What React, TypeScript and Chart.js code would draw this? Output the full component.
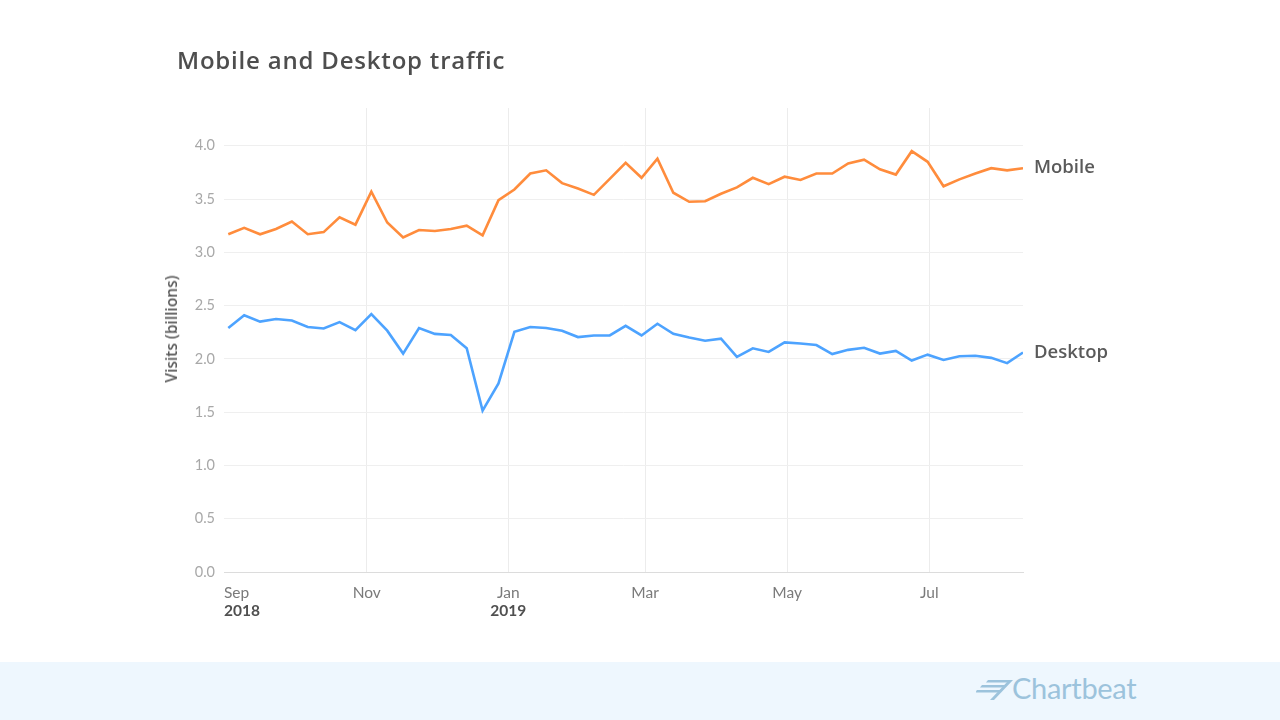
import { useEffect, useRef } from "react";
import Chart from "chart.js/auto";

// weekly visits in billions, Sep 2018 - Aug 2019
const mobileVisits = [
  3.17, 3.23, 3.17, 3.22, 3.29, 3.17, 3.19, 3.33, 3.26, 3.57,
  3.28, 3.14, 3.21, 3.20, 3.22, 3.25, 3.16, 3.49, 3.59, 3.74,
  3.77, 3.65, 3.60, 3.54, 3.69, 3.84, 3.70, 3.88, 3.56, 3.475,
  3.48, 3.55, 3.61, 3.70, 3.64, 3.71, 3.68, 3.74, 3.74, 3.835,
  3.87, 3.78, 3.73, 3.95, 3.85, 3.62, 3.685, 3.74, 3.79, 3.77,
  3.79,
];
const desktopVisits = [
  2.29, 2.41, 2.35, 2.375, 2.36, 2.30, 2.285, 2.345, 2.27, 2.42,
  2.265, 2.05, 2.29, 2.235, 2.225, 2.10, 1.515, 1.77, 2.255, 2.30,
  2.29, 2.265, 2.205, 2.22, 2.22, 2.31, 2.22, 2.33, 2.235, 2.20,
  2.17, 2.19, 2.02, 2.10, 2.065, 2.155, 2.145, 2.13, 2.045, 2.085,
  2.105, 2.05, 2.075, 1.985, 2.04, 1.99, 2.025, 2.03, 2.01, 1.96,
  2.06,
];

// month boundaries, in week-index units of the series above
const monthTickWeeks = [-0.27, 8.71, 17.62, 26.22, 35.16, 44.1, 50];
const monthLabels = ["Sep", "Nov", "Jan", "Mar", "May", "Jul", ""];
const yearTickWeeks = [-0.27, 17.62, 50];
const yearLabels = ["2018", "2019", ""];
const yTicks = [0, 0.5, 1.0, 1.5, 2.0, 2.5, 3.0, 3.5, 4.0];

const FONT = "Lato, 'Open Sans', sans-serif";
const HEAD_FONT = "'Open Sans', Lato, sans-serif";

const endLabels = {
  id: "endLabels",
  afterDatasetsDraw(chart: any) {
    const ctx = chart.ctx;
    ctx.save();
    ctx.font = `600 18.5px ${HEAD_FONT}`;
    ctx.fillStyle = "#5a5a5a";
    ctx.textBaseline = "middle";
    ctx.textAlign = "left";
    chart.data.datasets.forEach((ds: any, i: number) => {
      const pts = chart.getDatasetMeta(i).data;
      const last = pts[pts.length - 1];
      if (last) ctx.fillText(ds.label, last.x + 11, last.y);
    });
    ctx.restore();
  },
};

function TrafficChart() {
  const canvasRef = useRef<HTMLCanvasElement>(null);
  const chartRef = useRef<Chart | null>(null);

  useEffect(() => {
    if (!canvasRef.current) return;
    if (chartRef.current) chartRef.current.destroy();

    const lastTick = monthTickWeeks.length - 1;

    chartRef.current = new Chart(canvasRef.current, {
      type: "line",
      data: {
        datasets: [
          {
            label: "Mobile",
            data: mobileVisits.map((v, i) => ({ x: i, y: v })),
            borderColor: "#ff8c3c",
            borderWidth: 2.6,
            pointRadius: 0,
            tension: 0,
          },
          {
            label: "Desktop",
            data: desktopVisits.map((v, i) => ({ x: i, y: v })),
            borderColor: "#4da3ff",
            borderWidth: 2.6,
            pointRadius: 0,
            tension: 0,
          },
        ],
      },
      options: {
        animation: false,
        responsive: true,
        maintainAspectRatio: false,
        layout: {
          padding: { left: 150, right: 257, top: 108, bottom: 34 },
        },
        plugins: {
          legend: { display: false },
          tooltip: { enabled: false },
        },
        scales: {
          x: {
            type: "linear",
            position: "bottom",
            min: monthTickWeeks[0],
            max: monthTickWeeks[lastTick],
            weight: 1,
            afterBuildTicks: (axis: any) => {
              axis.ticks = monthTickWeeks.map((v) => ({ value: v }));
            },
            afterFit: (axis: any) => {
              axis.height = 30;
            },
            grid: {
              drawTicks: false,
              color: (c: any) =>
                c.index === 0 || c.index === lastTick ? "rgba(0,0,0,0)" : "#ececec",
            },
            border: { display: true, color: "#dcdcdc", width: 1 },
            ticks: {
              autoSkip: false,
              maxRotation: 0,
              align: "inner",
              padding: 12,
              color: "#7a7a7a",
              font: { family: FONT, size: 15.5 },
              callback: (_v: any, i: number) => monthLabels[i],
            },
          },
          year: {
            type: "linear",
            position: "bottom",
            min: yearTickWeeks[0],
            max: yearTickWeeks[yearTickWeeks.length - 1],
            weight: 2,
            afterBuildTicks: (axis: any) => {
              axis.ticks = yearTickWeeks.map((v) => ({ value: v }));
            },
            afterFit: (axis: any) => {
              axis.height = 26;
            },
            grid: { display: false, drawTicks: false },
            border: { display: false },
            ticks: {
              autoSkip: false,
              maxRotation: 0,
              align: "inner",
              padding: 0,
              color: "#505050",
              font: { family: FONT, size: 15.5, weight: "bold" },
              callback: (_v: any, i: number) => yearLabels[i],
            },
          },
          y: {
            min: 0,
            max: 4.355,
            afterBuildTicks: (axis: any) => {
              axis.ticks = yTicks.map((v) => ({ value: v }));
            },
            afterFit: (axis: any) => {
              axis.width = 74;
            },
            grid: { drawTicks: false, color: "#efefef" },
            border: { display: false },
            ticks: {
              padding: 9,
              color: "#a8a8a8",
              font: { family: FONT, size: 14.5 },
              callback: (v: any) => Number(v).toFixed(1),
            },
          },
        },
      },
      plugins: [endLabels],
    });

    return () => {
      if (chartRef.current) {
        chartRef.current.destroy();
        chartRef.current = null;
      }
    };
  }, []);

  return (
    <div style={{ position: "absolute", left: 0, top: 0, width: 1280, height: 662 }}>
      <canvas ref={canvasRef}></canvas>
    </div>
  );
}

export default function App() {
  return (
    <div
      style={{
        position: "fixed",
        inset: 0,
        width: 1280,
        height: 720,
        background: "#ffffff",
        fontFamily: FONT,
        overflow: "hidden",
      }}
    >
      <TrafficChart />
      <div
        style={{
          position: "absolute",
          left: 177,
          top: 45,
          fontFamily: HEAD_FONT,
          fontSize: 24,
          lineHeight: "30px",
          fontWeight: 600,
          letterSpacing: 0.8,
          color: "#4e4e4e",
          whiteSpace: "nowrap",
        }}
      >
        Mobile and Desktop traffic
      </div>
      <div
        style={{
          position: "absolute",
          left: 171,
          top: 329,
          transform: "translate(-50%, -50%) rotate(-90deg)",
          fontFamily: HEAD_FONT,
          fontSize: 15.5,
          fontWeight: 600,
          color: "#5a5a5a",
          whiteSpace: "nowrap",
        }}
      >
        Visits (billions)
      </div>
      <div
        style={{
          position: "absolute",
          left: 0,
          top: 662,
          width: 1280,
          height: 58,
          background: "#eef7fe",
        }}
      >
        <svg
          width="38"
          height="22"
          viewBox="0 0 38 22"
          style={{ position: "absolute", left: 976, top: 17 }}
        >
          <polygon points="12,1 36,1 34,3.5 10,3.5" fill="#9cc3dc" />
          <polygon points="6,6 31,6 29,8.5 4,8.5" fill="#9cc3dc" />
          <polygon points="1,11 26,11 24,13.5 -1,13.5" fill="#9cc3dc" />
          <polygon points="33,1 37,1 18,21 14,21" fill="#9cc3dc" />
        </svg>
        <div
          style={{
            position: "absolute",
            left: 1012,
            top: 9,
            fontSize: 29,
            lineHeight: "34px",
            color: "#9cc3dc",
            letterSpacing: -0.3,
          }}
        >
          Chartbeat
        </div>
      </div>
    </div>
  );
}
